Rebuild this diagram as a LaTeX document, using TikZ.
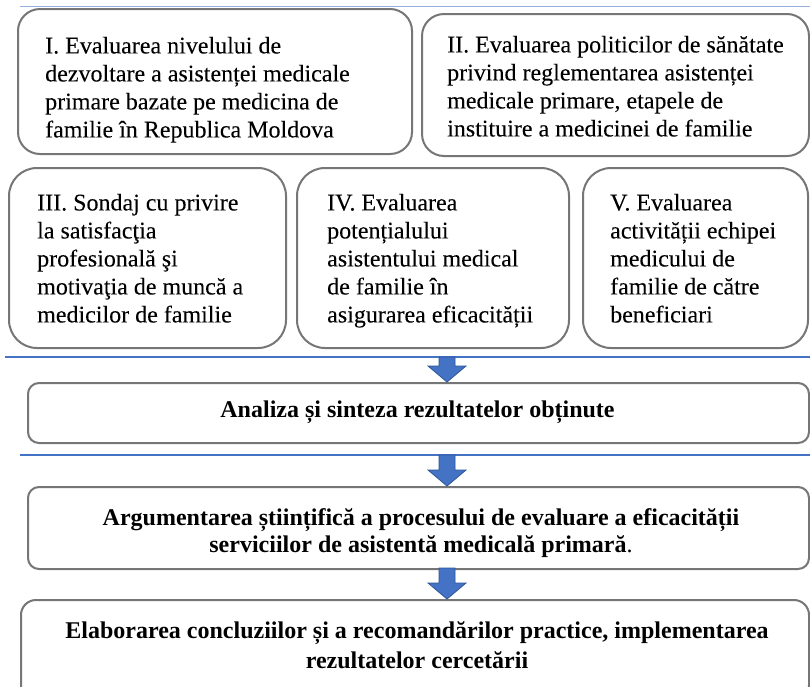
\documentclass[tikz,border=0pt]{standalone}
\usepackage{fontspec}
\setmainfont{Liberation Serif}
\newfontfamily\regfont{Liberation Serif}[FakeBold=0.01]
\usetikzlibrary{calc}
\definecolor{boxgray}{RGB}{118,118,118}
\definecolor{lineblue}{RGB}{68,114,196}
\definecolor{lightblue}{RGB}{150,176,222}
\definecolor{arrowfill}{RGB}{68,114,196}
\definecolor{arrowdraw}{RGB}{47,85,151}
\newcommand\myblockarrow[2]{%
  \filldraw[fill=arrowfill,draw=arrowdraw,line width=0.8pt]
    ($(#1)+(-8,0)$) -- ($(#1 |- #2)+(-8,-16)$) -- ($(#1 |- #2)+(-19,-16)$)
    -- (#1 |- #2) -- ($(#1 |- #2)+(19,-16)$) -- ($(#1 |- #2)+(8,-16)$)
    -- ($(#1)+(8,0)$) -- cycle;}
\begin{document}
\begin{tikzpicture}[x=1pt,y=-1pt,
  box/.style={draw=boxgray,line width=2pt,anchor=north west,inner sep=0pt},
  normtext/.style={anchor=north west,inner sep=0pt,align=left,
    font={\regfont\fontsize{24}{28}\selectfont}},
  boldtext/.style={anchor=north,inner sep=0pt,align=center}]
\clip (0,0) rectangle (810,686);
\fill[white] (0,0) rectangle (810,686);
% lines
\coordinate (t0) at (20,6);
\coordinate (t1) at (810,6);
\draw[lightblue,line width=1pt] (t0) -- (t1);
\coordinate (l1a) at (5,357);
\coordinate (l1b) at (810,357);
\draw[lineblue,line width=2pt] (l1a) -- (l1b);
\coordinate (l2a) at (20,455);
\coordinate (l2b) at (810,455);
\draw[lineblue,line width=2pt] (l2a) -- (l2b);
% boxes
\node[box,rounded corners=22pt,minimum width=394pt,minimum height=145pt] (b1) at (17,8) {};
\node[box,rounded corners=22pt,minimum width=387pt,minimum height=142pt] (b2) at (421,13) {};
\node[box,rounded corners=28pt,minimum width=277pt,minimum height=180pt] (b3) at (8,167) {};
\node[box,rounded corners=28pt,minimum width=272pt,minimum height=180pt] (b4) at (296,167) {};
\node[box,rounded corners=28pt,minimum width=225pt,minimum height=180pt] (b5) at (582,167) {};
\node[box,rounded corners=11pt,minimum width=781pt,minimum height=60pt] (b6) at (27,382) {};
\node[box,rounded corners=11pt,minimum width=781pt,minimum height=82pt] (b7) at (27,486) {};
\node[box,rounded corners=15pt,minimum width=788pt,minimum height=100pt] (b8) at (20,599) {};
% texts
\node[normtext] (x1) at (45,36.6) {I. Evaluarea nivelului de\\dezvoltare a asistenței medicale\\primare bazate pe medicina de\\familie în Republica Moldova};
\node[normtext] (x2) at (447,35.6) {II. Evaluarea politicilor de sănătate\\privind reglementarea asistenței\\medicale primare, etapele de\\instituire a medicinei de familie};
\node[normtext] (x3) at (37,193.6) {III. Sondaj cu privire\\la satisfacţia\\profesională şi\\motivaţia de muncă a\\medicilor de familie};
\node[normtext] (x4) at (327,193.6) {IV. Evaluarea\\potențialului\\asistentului medical\\de familie în\\asigurarea eficacității};
\node[normtext] (x5) at (610,193.6) {V. Evaluarea\\activității echipei\\medicului de\\familie de către\\beneficiari};
\node[boldtext,font=\fontsize{24}{28}\selectfont\bfseries] (x6) at (417.5,400.6) {Analiza și sinteza rezultatelor obținute};
\node[boldtext,font=\fontsize{24}{27}\selectfont\bfseries] (x7) at (421,508.6) {Argumentarea științifică a procesului de evaluare a eficacității\\serviciilor de asistentă medicală primară{\mdseries.}};
\node[boldtext,font=\fontsize{24}{30}\selectfont\bfseries] (x8) at (417,621.6) {Elaborarea concluziilor și a recomandărilor practice, implementarea\\rezultatelor cercetării};
% arrows
\coordinate (a1) at (447,357);
\coordinate (a2) at (447,455);
\coordinate (a3) at (447,568);
\myblockarrow{a1}{b6.north}
\myblockarrow{a2}{b7.north}
\myblockarrow{a3}{b8.north}
\end{tikzpicture}
\end{document}
